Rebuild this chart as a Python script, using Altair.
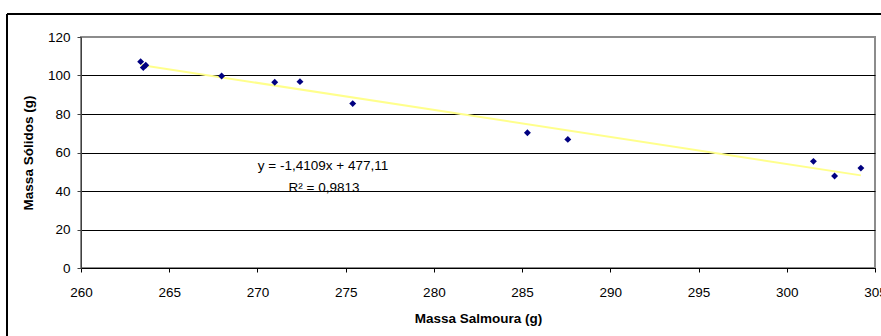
import altair as alt
import pandas as pd

# Data
massa_salmoura = [263.38, 263.53, 263.67, 267.97, 270.98, 272.41, 275.40, 285.30, 287.59, 301.51, 302.71, 304.20]
massa_solidos = [107.2, 104.1, 105.3, 99.7, 96.5, 96.8, 85.4, 70.3, 66.8, 55.4, 47.8, 51.9]
x_ticks = [260, 265, 270, 275, 280, 285, 290, 295, 300, 305]
y_ticks = [0, 20, 40, 60, 80, 100, 120]
eq_lines = ["y = -1,4109x + 477,11", "R² = 0,9813"]

df = pd.DataFrame({"x": massa_salmoura, "y": massa_solidos})

FONT = "Liberation Sans"
FS = 13.5
W, H = 794, 231

x_enc = alt.X(
    "x:Q",
    scale=alt.Scale(domain=[260, 305], nice=False, zero=False),
    axis=alt.Axis(
        title="Massa Salmoura (g)",
        values=x_ticks,
        grid=False,
        tickSize=4,
        tickColor="#000000",
        domainColor="#000000",
        labelPadding=13,
        titlePadding=13,
        labelFlush=False,
        labelOverlap=False,
    ),
)
y_enc = alt.Y(
    "y:Q",
    scale=alt.Scale(domain=[0, 120], nice=False),
    axis=alt.Axis(
        title="Massa Sólidos (g)",
        values=y_ticks,
        grid=True,
        gridColor={"condition": {"test": "datum.value === 120", "value": "#8c8c8c"}, "value": "#000000"},
        gridWidth=1,
        tickSize=4,
        tickColor="#404040",
        domainColor="#404040",
        labelPadding=7,
        titlePadding=12,
        labelFlush=False,
        labelOverlap=False,
    ),
)

points = alt.Chart(df).mark_point(
    shape="diamond", filled=True, color="#000080", size=48, opacity=1
).encode(x=x_enc, y=y_enc)

trend = alt.Chart(df).transform_regression("x", "y").mark_line(
    color="#FFFF8C", strokeWidth=2
).encode(x=x_enc, y=y_enc)

eq1 = alt.Chart(pd.DataFrame({"t": [eq_lines[0]]})).mark_text(
    font=FONT, fontSize=FS, color="#000000", align="center", baseline="middle"
).encode(text="t:N", x=alt.value(242), y=alt.value(129))
eq2 = alt.Chart(pd.DataFrame({"t": [eq_lines[1]]})).mark_text(
    font=FONT, fontSize=FS, color="#000000", align="center", baseline="middle"
).encode(text="t:N", x=alt.value(243), y=alt.value(151))

# Outer chart frame (decoration)
frame_left = alt.Chart(df).mark_rule(color="#000000", strokeWidth=1.5).encode(
    x=alt.value(-74), y=alt.value(-23), y2=alt.value(330)
)
frame_top = alt.Chart(df).mark_rule(color="#000000", strokeWidth=1.5).encode(
    x=alt.value(-74), x2=alt.value(820), y=alt.value(-23)
)

chart = (
    alt.layer(trend, points, eq1, eq2, frame_left, frame_top)
    .properties(
        width=W,
        height=H,
        padding={"left": 81, "top": 37, "right": 6, "bottom": 68},
        autosize=alt.AutoSizeParams(type="none"),
        background="#ffffff",
    )
    .configure_view(stroke="#8c8c8c", strokeWidth=2)
    .configure_axis(
        labelFont=FONT,
        labelFontSize=FS,
        labelColor="#000000",
        titleFont=FONT,
        titleFontSize=FS,
        titleFontWeight="bold",
        titleColor="#000000",
    )
)

chart.save("out.html", embed_options={"renderer": "svg", "actions": False})
